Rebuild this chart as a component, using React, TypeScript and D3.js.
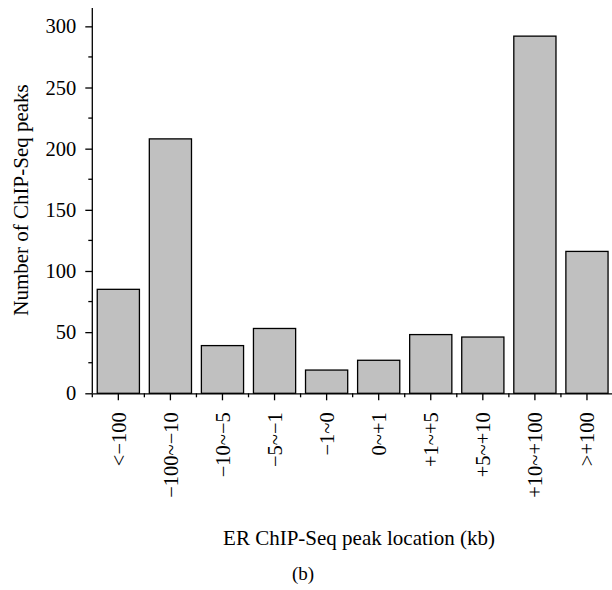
import { useEffect, useRef } from "react";
import * as d3 from "d3";

const categories = [
  "<−100",
  "−100~−10",
  "−10~−5",
  "−5~−1",
  "−1~0",
  "0~+1",
  "+1~+5",
  "+5~+10",
  "+10~+100",
  ">+100",
];
const peakCounts = [85, 208, 39, 53, 19, 27, 48, 46, 292, 116];
const yMajorTicks = [0, 50, 100, 150, 200, 250, 300];
const yMinorTicks = [25, 75, 125, 175, 225, 275];

const FONT = "'Liberation Serif', 'Times New Roman', serif";

const App = () => {
  const svgRef = useRef<SVGSVGElement>(null);

  useEffect(() => {
    const svg = d3.select(svgRef.current).attr("width", 612).attr("height", 590);
    svg.selectAll("*").remove();

    const x = d3
      .scaleBand()
      .domain(categories)
      .range([92.3, 613])
      .paddingInner(0.19)
      .paddingOuter(0.095);

    const y = d3.scaleLinear().domain([0, 315]).range([393.3, 8]);

    // bars
    svg
      .selectAll("rect.bar")
      .data(peakCounts)
      .enter()
      .append("rect")
      .attr("class", "bar")
      .attr("x", (d, i) => x(categories[i]) || 0)
      .attr("y", (d) => y(d))
      .attr("width", x.bandwidth())
      .attr("height", (d) => y(0) - y(d))
      .attr("fill", "#c0c0c0")
      .attr("stroke", "#000")
      .attr("stroke-width", 1.3);

    // y axis
    const yAxis = svg
      .append("g")
      .attr("transform", `translate(${x.range()[0]},0)`)
      .call(d3.axisLeft(y).tickValues(yMajorTicks).tickSize(7).tickPadding(9));
    yAxis.select(".domain").attr("d", `M0,${y(0)}V${y(315)}`).attr("stroke-width", 1.3);
    yAxis.selectAll(".tick line").attr("stroke-width", 1.3);
    yAxis.selectAll("text").attr("font-family", FONT).attr("font-size", 20.5).attr("fill", "#000");

    yAxis
      .selectAll("line.minor")
      .data(yMinorTicks)
      .enter()
      .append("line")
      .attr("class", "minor")
      .attr("x1", -4)
      .attr("x2", 0)
      .attr("y1", (d) => y(d))
      .attr("y2", (d) => y(d))
      .attr("stroke", "#000")
      .attr("stroke-width", 1.3);

    // x axis
    const xAxis = svg
      .append("g")
      .attr("transform", `translate(0,${y(0)})`)
      .call(d3.axisBottom(x).tickSize(7).tickSizeOuter(0));
    xAxis.select(".domain").attr("stroke-width", 1.3);
    xAxis.selectAll(".tick line").attr("stroke-width", 1.3);
    xAxis
      .selectAll(".tick text")
      .attr("font-family", FONT)
      .attr("font-size", 20.5)
      .attr("fill", "#000")
      .attr("text-anchor", "end")
      .attr("transform", "rotate(-90)")
      .attr("x", -19)
      .attr("y", 0)
      .attr("dy", "0.35em");

    const boundaries = d3.range(categories.length + 1).map(
      (i) => x.range()[0] + i * x.step()
    );
    xAxis
      .selectAll("line.minor")
      .data(boundaries)
      .enter()
      .append("line")
      .attr("class", "minor")
      .attr("x1", (d) => d)
      .attr("x2", (d) => d)
      .attr("y1", 0)
      .attr("y2", 4)
      .attr("stroke", "#000")
      .attr("stroke-width", 1.3);

    // titles
    svg
      .append("text")
      .attr("transform", `translate(28,200) rotate(-90)`)
      .attr("text-anchor", "middle")
      .attr("font-family", FONT)
      .attr("font-size", 21)
      .text("Number of ChIP-Seq peaks");

    svg
      .append("text")
      .attr("x", 359)
      .attr("y", 545)
      .attr("text-anchor", "middle")
      .attr("font-family", FONT)
      .attr("font-size", 21)
      .text("ER ChIP-Seq peak location (kb)");

    svg
      .append("text")
      .attr("x", 303)
      .attr("y", 580)
      .attr("text-anchor", "middle")
      .attr("font-family", FONT)
      .attr("font-size", 19)
      .text("(b)");
  }, []);

  return (
    <svg
      ref={svgRef}
      style={{ position: "absolute", left: 0, top: 0, background: "#fff" }}
    />
  );
};

export default App;
